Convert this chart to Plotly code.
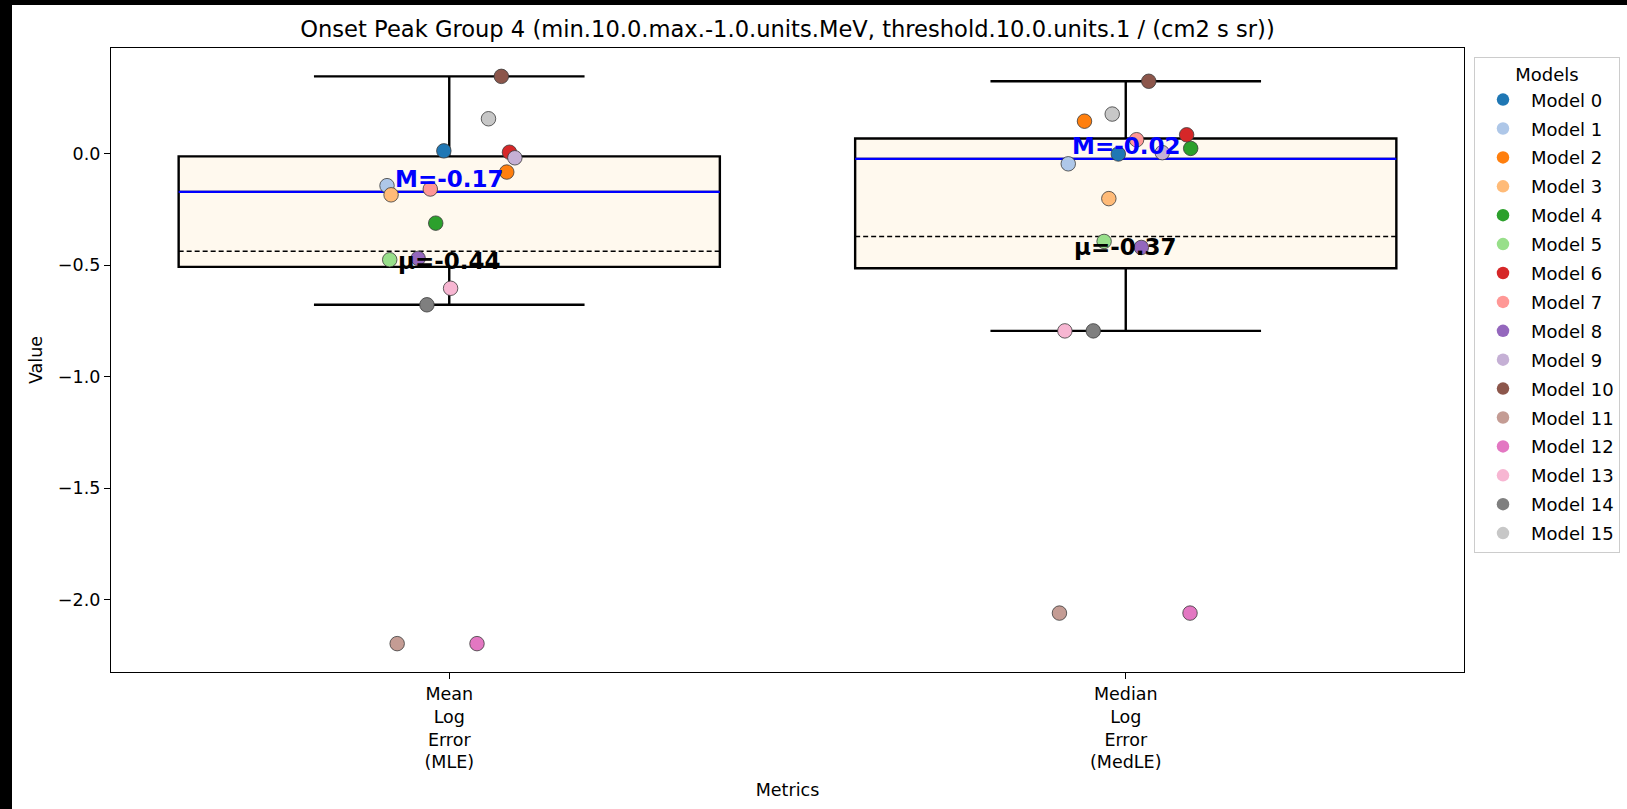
import numpy as np
import plotly.graph_objects as go

# ---------------- data ----------------
metrics = ["Mean<br>Log<br>Error<br>(MLE)", "Median<br>Log<br>Error<br>(MedLE)"]
models = [f"Model {i}" for i in range(16)]
mle = [0.012, -0.144, -0.083, -0.185, -0.312, -0.476, 0.006, -0.159,
       -0.470, -0.019, 0.346, -2.197, -2.197, -0.604, -0.678, 0.156]
medle = [-0.002, -0.046, 0.145, -0.202, 0.023, -0.394, 0.084, 0.062,
         -0.421, 0.004, 0.324, -2.060, -2.060, -0.795, -0.795, 0.177]
# strip-plot jitter offsets as they appear in the picture
mle_jitter = [-0.008, -0.092, 0.085, -0.086, -0.020, -0.088, 0.089, -0.028,
              -0.046, 0.097, 0.077, -0.077, 0.041, 0.002, -0.033, 0.058]
medle_jitter = [-0.011, -0.085, -0.061, -0.025, 0.096, -0.032, 0.090, 0.016,
                0.023, 0.054, 0.034, -0.098, 0.095, -0.090, -0.048, -0.020]
colors = ["#1f77b4", "#aec7e8", "#ff7f0e", "#ffbb78", "#2ca02c", "#98df8a",
          "#d62728", "#ff9896", "#9467bd", "#c5b0d5", "#8c564b", "#c49c94",
          "#e377c2", "#f7b6d2", "#7f7f7f", "#c7c7c7"]
title = "Onset Peak Group 4 (min.10.0.max.-1.0.units.MeV, threshold.10.0.units.1 / (cm2 s sr))"

FONT = "DejaVu Sans"
BOXW = 0.8
series = [mle, medle]
jitters = [mle_jitter, medle_jitter]

fig = go.Figure()

# ---------------- boxes ----------------
for i, vals in enumerate(series):
    v = np.array(vals)
    q1, med, q3 = np.percentile(v, [25, 50, 75])
    iqr = q3 - q1
    lo = v[v >= q1 - 1.5 * iqr].min()
    hi = v[v <= q3 + 1.5 * iqr].max()
    mean = v.mean()
    fig.add_trace(go.Box(
        x=[i], q1=[q1], median=[med], q3=[q3], lowerfence=[lo], upperfence=[hi],
        width=BOXW, whiskerwidth=0.5, boxpoints=False,
        fillcolor="#FFF9EE", line=dict(color="black", width=2.4),
        showlegend=False, hoverinfo="skip"))
    # median line (blue) and mean line (dashed black)
    fig.add_trace(go.Scatter(
        x=[i - BOXW / 2, i + BOXW / 2], y=[med, med], mode="lines",
        line=dict(color="blue", width=2.2), showlegend=False, hoverinfo="skip"))
    fig.add_trace(go.Scatter(
        x=[i - BOXW / 2, i + BOXW / 2], y=[mean, mean], mode="lines",
        line=dict(color="black", width=1.5, dash="5px,3px"),
        showlegend=False, hoverinfo="skip"))
    fig.add_annotation(x=i, y=med, text=f"<b>M={med:.2f}</b>", showarrow=False,
                       yanchor="bottom", xanchor="center", yshift=-2,
                       font=dict(family=FONT, size=23, color="blue"))
    fig.add_annotation(x=i, y=mean, text=f"<b>μ={mean:.2f}</b>", showarrow=False,
                       yanchor="top", xanchor="center", yshift=5,
                       font=dict(family=FONT, size=23, color="black"))

# ---------------- points ----------------
for k, name in enumerate(models):
    fig.add_trace(go.Scatter(
        x=[j + jitters[j][k] for j in range(len(series))],
        y=[series[j][k] for j in range(len(series))],
        mode="markers", name=name, legendgroup=name, showlegend=False,
        marker=dict(color=colors[k], size=14.5,
                    line=dict(color="#3a3a3a", width=0.8)),
        hoverinfo="skip"))
    # legend entry (edge-less marker, as in the reference legend)
    fig.add_trace(go.Scatter(
        x=[None], y=[None], mode="markers", name=name, legendgroup=name,
        marker=dict(color=colors[k], size=12.5, line=dict(width=0)),
        hoverinfo="skip"))

allv = np.concatenate([np.array(s) for s in series])
span = allv.max() - allv.min()
yr = [allv.min() - 0.05 * span, allv.max() + 0.05 * span]

W, H = 1627, 809
L, R, T, B = 111, 163, 48, 137
pw, ph = W - L - R, H - T - B


def px2paper_x(px):
    return (px - L) / pw


def px2paper_y(py):
    return (H - B - py) / ph


# black screenshot border (left and top)
shapes = [
    dict(type="rect", xref="paper", yref="paper", x0=px2paper_x(0), x1=px2paper_x(12),
         y0=px2paper_y(H), y1=px2paper_y(0), fillcolor="black", line=dict(width=0)),
    dict(type="rect", xref="paper", yref="paper", x0=px2paper_x(0), x1=px2paper_x(W),
         y0=px2paper_y(5), y1=px2paper_y(0), fillcolor="black", line=dict(width=0)),
]

fig.update_layout(
    width=W, height=H,
    margin=dict(l=L, r=R, t=T, b=B, autoexpand=False),
    paper_bgcolor="white", plot_bgcolor="white",
    font=dict(family=FONT, size=17.5, color="black"),
    title=dict(text=title, x=0.5, xref="paper", xanchor="center",
               y=1 - 29 / H, yref="container", yanchor="middle",
               font=dict(family=FONT, size=22.6, color="black")),
    showlegend=True,
    legend=dict(x=px2paper_x(1474), y=px2paper_y(57), xanchor="left", yanchor="top",
                bgcolor="rgba(255,255,255,0.8)", bordercolor="#cccccc", borderwidth=1,
                font=dict(family=FONT, size=18), itemsizing="trace",
                itemwidth=46, traceorder="grouped", tracegroupgap=2.5,
                title=dict(text="Models", side="top center",
                           font=dict(family=FONT, size=18))),
    shapes=shapes,
)
fig.update_xaxes(range=[-0.5, 1.5], tickvals=[0, 1], ticktext=metrics,
                 showgrid=False, zeroline=False, showline=True, mirror=True,
                 linecolor="black", linewidth=1.3, ticks="outside", ticklen=6,
                 tickwidth=1.3, tickcolor="black",
                 tickfont=dict(family=FONT, size=17.5),
                 title=dict(text="Metrics", standoff=12,
                            font=dict(family=FONT, size=17.5)))
fig.update_yaxes(range=yr, dtick=0.5, tick0=0, tickformat=".1f",
                 showgrid=False, zeroline=False, showline=True, mirror=True,
                 linecolor="black", linewidth=1.3, ticks="outside", ticklen=6,
                 tickwidth=1.3, tickcolor="black",
                 tickfont=dict(family=FONT, size=17.5),
                 title=dict(text="Value", standoff=10,
                            font=dict(family=FONT, size=17.5)))

fig.write_html("out.html", config={"displayModeBar": False},
               post_script="document.body.style.margin='0';")
